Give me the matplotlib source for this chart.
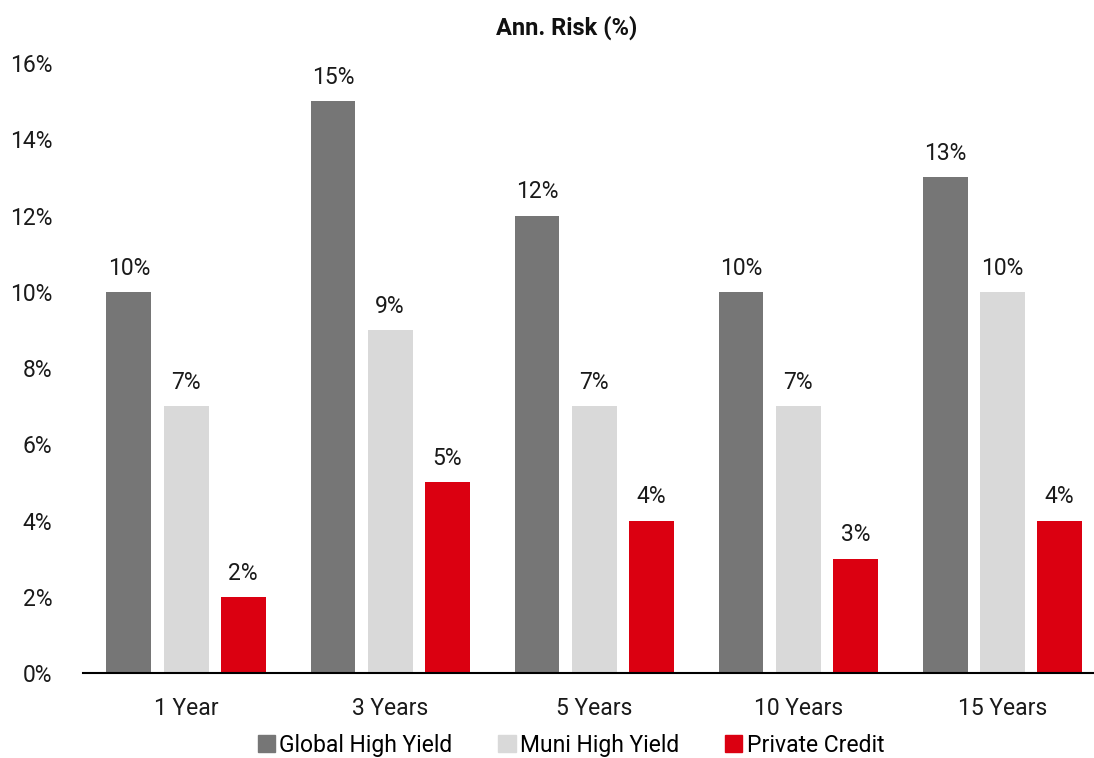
import matplotlib
matplotlib.use('Agg')
import matplotlib.pyplot as plt
import matplotlib.patches as mpatches
import numpy as np

plt.rcParams['font.family'] = ['Roboto', 'DejaVu Sans']

# Data
periods = ['1 Year', '3 Years', '5 Years', '10 Years', '15 Years']
series_names = ['Global High Yield', 'Muni High Yield', 'Private Credit']
global_hy = [10, 15, 12, 10, 13]
muni_hy = [7, 9, 7, 7, 10]
private_credit = [2, 5, 4, 3, 4]

GRAY = '#767676'
LIGHT = '#D9D9D9'
RED = '#DB0011'
colors = [GRAY, LIGHT, RED]
FS = 16.5
TXT = '#1a1a1a'

fig = plt.figure(figsize=(10.94, 7.58), dpi=100)
ax = fig.add_axes([0.0759, 0.1121, 0.9241, 0.8047])

x = np.arange(len(periods))
width = 0.22
step = 0.28
for i, (vals, c) in enumerate(zip([global_hy, muni_hy, private_credit], colors)):
    bars = ax.bar(x + (i - 1) * step, vals, width, color=c, edgecolor='none', zorder=2)
    for b, v in zip(bars, vals):
        ax.text(b.get_x() + b.get_width() / 2, v + 0.32, f'{v}%',
                ha='center', va='bottom', fontsize=FS, color=TXT)

ax.set_xlim(-0.505, 4.45)
ax.set_ylim(0, 16)
ax.set_yticks(range(0, 17, 2))
ax.set_yticklabels([f'{t}%' for t in range(0, 17, 2)], fontsize=FS, color=TXT)
ax.set_xticks(x)
ax.set_xticklabels(periods, fontsize=FS, color=TXT)
ax.tick_params(axis='both', length=0)
ax.tick_params(axis='y', pad=22)
ax.tick_params(axis='x', pad=17)

for s in ['top', 'right', 'left']:
    ax.spines[s].set_visible(False)
ax.spines['bottom'].set_color('black')
ax.spines['bottom'].set_linewidth(1.5)

fig.text(0.518, 0.963, 'Ann. Risk (%)', ha='center', va='center',
         fontsize=17, fontweight='bold', color='#111111')

handles = [mpatches.Patch(color=c, label=n) for c, n in zip(colors, series_names)]
fig.legend(handles=handles, loc='center', bbox_to_anchor=(0.522, 0.017), ncol=3,
           frameon=False, fontsize=FS, handlelength=0.75, handleheight=0.75,
           handletextpad=0.2, columnspacing=2.0, borderpad=0)

fig.savefig('out.png', dpi=100)
